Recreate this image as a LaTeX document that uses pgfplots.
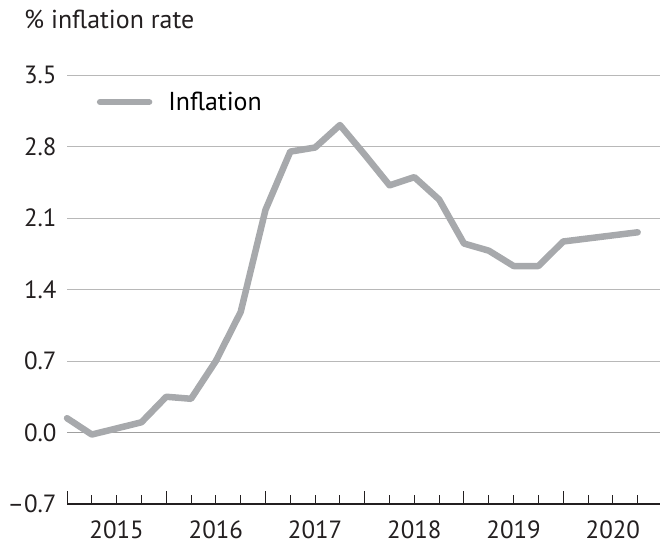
\documentclass[border=0pt]{standalone}
\usepackage{fontspec}
\setmainfont{PT Sans}
\usepackage{pgfplots}
\pgfplotsset{compat=1.18}
\definecolor{infl}{HTML}{A7A9AC}
\definecolor{gridc}{HTML}{B8B8B8}
\definecolor{axc}{HTML}{231F20}
\begin{document}
\begin{tikzpicture}
\useasboundingbox (0,0) rectangle (660bp,546bp);
\begin{axis}[
 at={(67bp,42bp)}, anchor=south west,
 scale only axis, width=593bp, height=429bp,
 xmin=0, xmax=23.9, ymin=-0.7, ymax=3.5,
 clip=false,
 axis lines*=left,
 y axis line style={draw=none},
 x axis line style={draw=axc, line width=1.2bp, -},
 ytick={-0.7,0.7,1.4,2.1,2.8,3.5},
 yticklabels={\textendash0.7,0.7,1.4,2.1,2.8,3.5},
 extra y ticks={0},
 extra y tick labels={0.0},
 extra y tick style={grid style={color=gray!75, line width=1bp}},
 ymajorgrids, grid style={gridc, line width=0.8bp},
 ytick style={draw=none},
 yticklabel style={font=\fontsize{25}{29}\selectfont, text=axc, xshift=-7bp},
 xtick={0,4,...,20},
 xticklabels={2015,2016,2017,2018,2019,2020},
 minor xtick={1,2,3,5,6,7,9,10,11,13,14,15,17,18,19,21,22,23},
 tick align=inside,
 major tick length=13bp, minor tick length=9bp,
 xtick style={draw=axc, line width=1bp},
 xticklabel style={font=\fontsize{25}{29}\selectfont, text=axc, inner sep=0pt, xshift=49.6bp, yshift=-17bp},
 legend style={at={(0.05,0.937)}, anchor=west, draw=none, fill=none,
   font=\fontsize{26}{30}\selectfont, inner sep=0pt,
   /tikz/every odd column/.append style={column sep=14bp}},
 legend cell align=left,
 legend image code/.code={\draw[#1, line cap=round] (0bp,0bp) -- (49bp,0bp);},
]
\addplot[infl, line width=6.5bp, line join=round, line cap=round] coordinates {
(0,0.14) (1,-0.02) (2,0.04) (3,0.10) (4,0.35) (5,0.33) (6,0.70) (7,1.18)
(8,2.18) (9,2.75) (10,2.79) (11,3.01) (12,2.72) (13,2.42) (14,2.50) (15,2.28)
(16,1.85) (17,1.78) (18,1.63) (19,1.63) (20,1.87) (21,1.90) (22,1.93) (23,1.96)
};
\addlegendentry{Inflation}
\end{axis}
\node[anchor=base west, font=\fontsize{26}{30}\selectfont, text=axc, inner sep=0pt] at (24bp,517bp) {\% inflation rate};
\end{tikzpicture}
\end{document}
